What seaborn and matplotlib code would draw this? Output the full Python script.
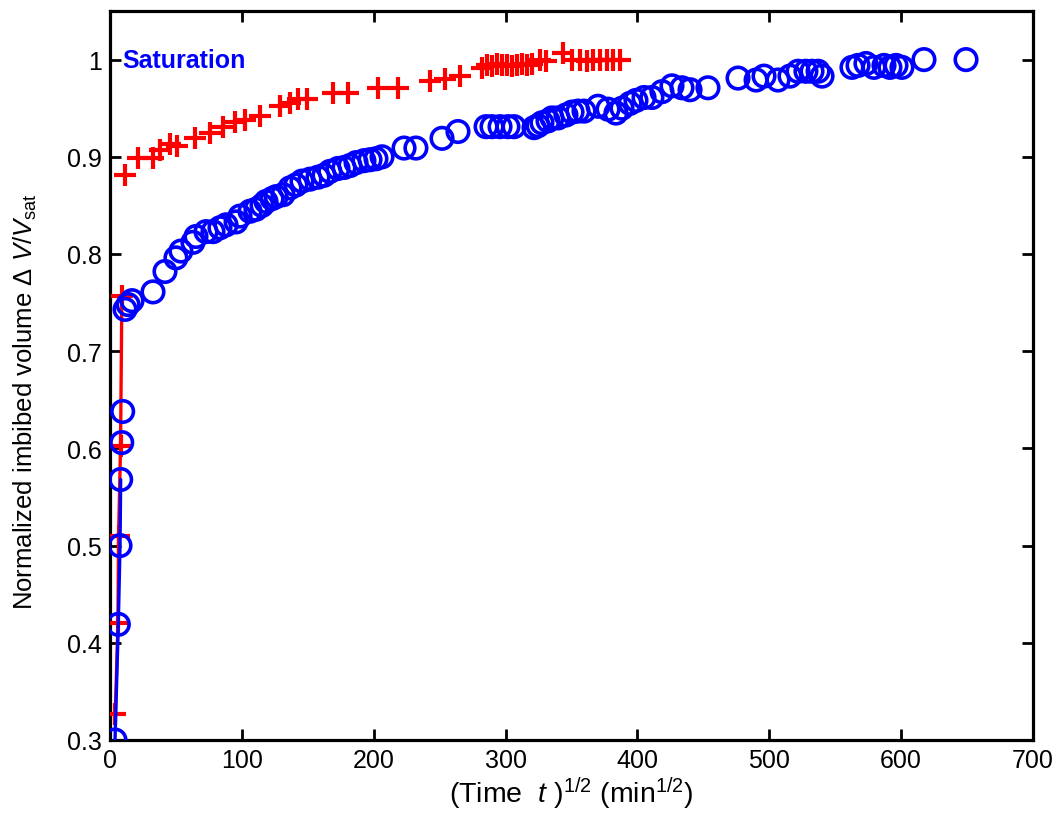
import numpy as np
import pandas as pd
import matplotlib
matplotlib.use("Agg")
import matplotlib.pyplot as plt
import seaborn as sns

# ---- data ----
# early (connected) points
red_line_x = [4.0, 6.0, 6.5, 8.0, 9.0]
red_line_y = [0.327, 0.420, 0.510, 0.602, 0.757]
blue_line_x = [3.8, 6.3, 7.6, 8.1]
blue_line_y = [0.300, 0.419, 0.500, 0.568]

red_x = [11.4, 21.5, 32.9, 37.9, 45.5, 50.6, 64.5, 75.8, 85.9, 94.8, 102.4, 113.8,
         128.9, 136.5, 142.8, 149.2, 169.4, 180.7, 203.5, 218.7, 242.7, 254.1, 265.4,
         282.0, 285.7, 289.5, 293.3, 297.1, 300.9, 304.7, 308.5, 312.3, 316.1, 319.9,
         326.0, 331.0, 343.8, 350.0, 356.5, 361.5, 366.5, 371.6, 376.6, 381.6, 386.8]
red_y = [0.881, 0.899, 0.899, 0.907, 0.913, 0.911, 0.919, 0.925, 0.931, 0.936, 0.938, 0.942,
         0.952, 0.955, 0.959, 0.959, 0.966, 0.966, 0.971, 0.971, 0.978, 0.980, 0.983,
         0.991, 0.994, 0.993, 0.995, 0.994, 0.994, 0.993, 0.994, 0.995, 0.994, 0.995,
         1.000, 0.999, 1.007, 1.000, 1.000, 0.999, 1.000, 1.000, 1.000, 1.000, 1.000]

blue_x = [3.8, 6.3, 7.6, 8.1, 8.9, 9.6, 11.4, 13.7, 16.7, 32.6, 41.7, 50.0, 53.8, 62.9,
          65.2, 72.8, 78.1, 83.4, 88.0, 95.6, 98.6, 106.2, 110.7, 115.3, 118.3, 122.9,
          126.0, 131.2, 136.5, 141.0, 145.6, 151.7, 157.7, 162.3, 166.8, 172.9, 177.5,
          182.0, 186.6, 192.6, 197.2, 201.7, 206.3, 223.0, 232.0, 251.8, 263.9, 285.2,
          289.7, 295.8, 301.8, 306.4, 321.6, 324.6, 327.6, 332.2, 335.2, 339.8, 345.8,
          350.4, 354.9, 359.5, 370.1, 377.7, 383.7, 388.3, 394.4, 398.9, 405.0, 411.0,
          418.6, 426.2, 433.8, 439.9, 453.5, 476.3, 490.0, 496.0, 506.6, 515.7, 521.8,
          527.8, 532.4, 537.0, 540.0, 562.7, 567.3, 573.3, 579.4, 587.0, 591.5, 596.1,
          600.6, 617.3, 649.2]
blue_y = [0.300, 0.419, 0.500, 0.568, 0.606, 0.638, 0.743, 0.748, 0.752, 0.761, 0.782,
          0.796, 0.803, 0.812, 0.818, 0.823, 0.823, 0.827, 0.830, 0.833, 0.839, 0.844,
          0.846, 0.850, 0.854, 0.857, 0.859, 0.861, 0.868, 0.871, 0.875, 0.877, 0.879,
          0.881, 0.885, 0.888, 0.889, 0.891, 0.894, 0.896, 0.897, 0.898, 0.900, 0.909,
          0.909, 0.919, 0.926, 0.931, 0.931, 0.931, 0.931, 0.931, 0.930, 0.932, 0.935,
          0.937, 0.940, 0.940, 0.943, 0.946, 0.947, 0.947, 0.952, 0.949, 0.945, 0.950,
          0.955, 0.958, 0.961, 0.961, 0.967, 0.973, 0.971, 0.969, 0.971, 0.981, 0.979,
          0.983, 0.979, 0.983, 0.988, 0.988, 0.988, 0.988, 0.983, 0.992, 0.994, 0.996,
          0.992, 0.994, 0.992, 0.994, 0.992, 1.000, 1.000]

xticks = [0, 100, 200, 300, 400, 500, 600, 700]
yticks = [0.3, 0.4, 0.5, 0.6, 0.7, 0.8, 0.9, 1.0]
ytick_labels = ["0.3", "0.4", "0.5", "0.6", "0.7", "0.8", "0.9", "1"]

# ---- style ----
sns.set_theme(style="ticks")
plt.rcParams['font.family'] = ['Liberation Sans', 'DejaVu Sans']
plt.rcParams['mathtext.fontset'] = 'custom'
plt.rcParams['mathtext.rm'] = 'Liberation Sans'
plt.rcParams['mathtext.it'] = 'Liberation Sans:italic'
plt.rcParams['mathtext.bf'] = 'Liberation Sans:bold'
for k in ['text.color', 'axes.labelcolor', 'xtick.color', 'ytick.color', 'axes.edgecolor']:
    plt.rcParams[k] = 'black'

fig = plt.figure(figsize=(10.64, 8.29), dpi=100)
ax = fig.add_axes([110 / 1064, 1 - 741 / 829, (1033 - 110) / 1064, (741 - 12) / 829])

red_all_x = red_line_x + red_x
red_all_y = red_line_y + red_y

sns.lineplot(x=red_line_x, y=red_line_y, ax=ax, color="red", linewidth=2.4,
             sort=False, estimator=None, zorder=2)
sns.scatterplot(x=red_all_x, y=red_all_y, ax=ax, marker="+", color="red", s=270,
                linewidth=3.0, zorder=3)
sns.scatterplot(x=blue_x, y=blue_y, ax=ax, marker="o", facecolors="none",
                edgecolor="blue", s=240, linewidth=2.6, zorder=4)
sns.lineplot(x=blue_line_x, y=blue_line_y, ax=ax, color="blue", linewidth=2.4,
             sort=False, estimator=None, zorder=5)

ax.set_xlim(0, 700)
ax.set_ylim(0.3, 1.05)
ax.set_xticks(xticks)
ax.set_xticklabels([str(t) for t in xticks])
ax.set_yticks(yticks)
ax.set_yticklabels(ytick_labels)
ax.tick_params(direction="in", length=8, width=2, labelsize=18, color="black",
               labelcolor="black", top=True, right=True, pad=6)
for s in ax.spines.values():
    s.set_linewidth(2.3)
    s.set_color("black")
    s.set_visible(True)

ax.set_xlabel(r"(Time  $\mathit{t}$ )$^{1/2}$ (min$^{1/2}$)", fontsize=20.5)
ax.set_ylabel("Normalized imbibed volume \u0394 $\\mathit{V}$/$\\mathit{V}_{\\rm sat}$",
              fontsize=18.5)
ax.xaxis.set_label_coords(0.5, -0.048)
ax.yaxis.set_label_coords(-0.077, 0.465)

ax.text(9, 1.0, "Saturation", color="blue", fontsize=18, fontweight="bold",
        ha="left", va="center")

fig.savefig("out.png", dpi=100, facecolor="white")
